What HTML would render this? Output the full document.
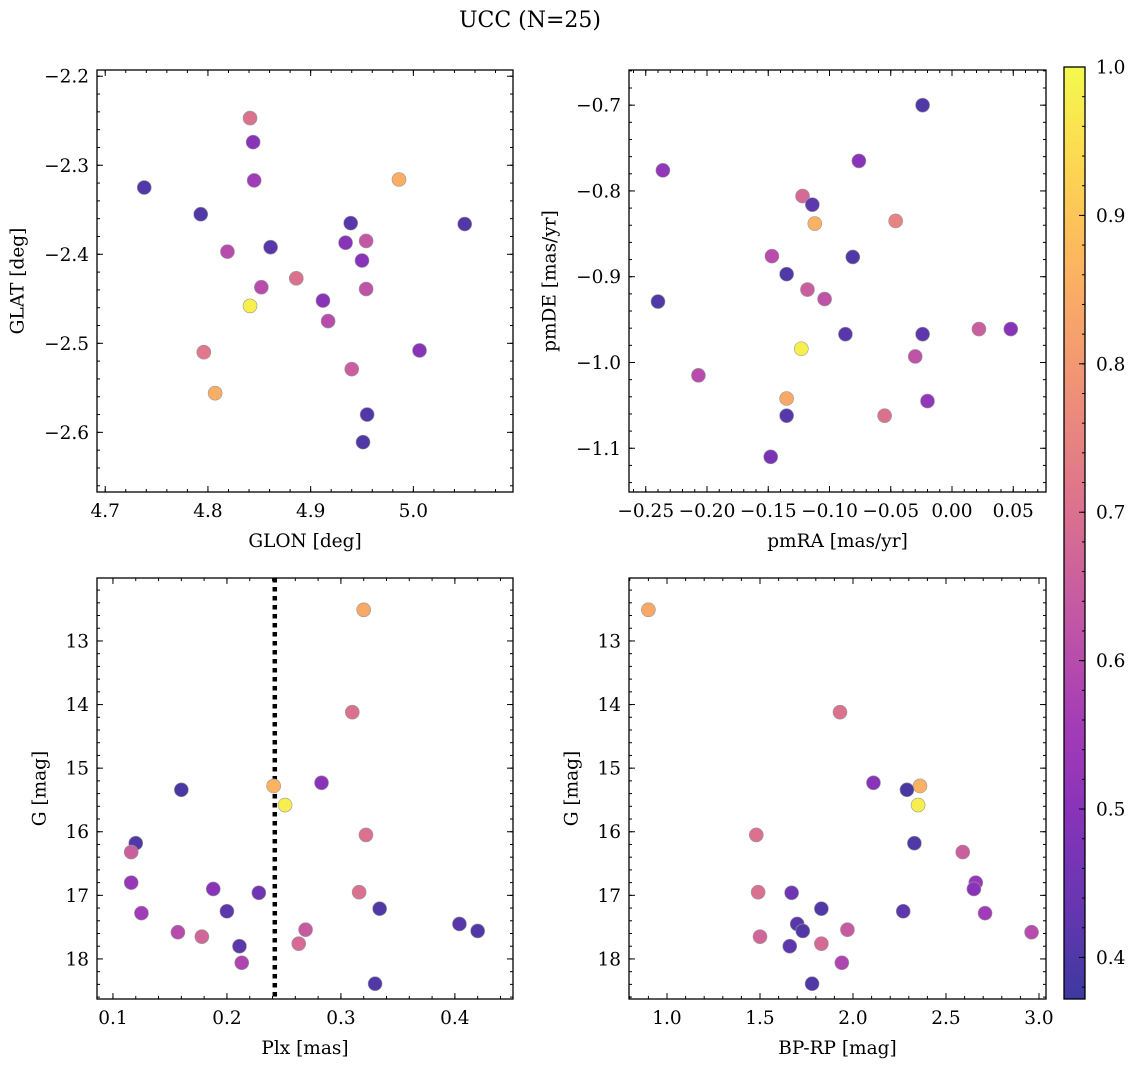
<!DOCTYPE html>
<html><head><meta charset="utf-8"><style>
html,body{margin:0;padding:0;background:#fff;}
svg text{font-family:"DejaVu Serif","Liberation Serif",serif;fill:#000;}
</style></head><body>
<svg id="fig" width="1136" height="1067" viewBox="0 0 1136 1067" xmlns="http://www.w3.org/2000/svg">
<defs>
<linearGradient id="cbgrad" x1="0" y1="1" x2="0" y2="0"></linearGradient>
</defs>
<text x="530" y="27" font-size="22" text-anchor="middle">UCC (N=25)</text>
<g id="layer"></g>
</svg>
<script>
// Panel 1: GLON / GLAT
const glon = [4.841,4.844,4.845,4.986,4.738,4.793,4.939,5.050,4.934,4.954,4.861,4.819,4.950,4.886,4.852,4.954,4.912,4.841,4.917,4.796,5.006,4.940,4.807,4.955,4.951];
const glat = [-2.247,-2.274,-2.317,-2.316,-2.325,-2.355,-2.365,-2.366,-2.387,-2.385,-2.392,-2.397,-2.407,-2.427,-2.437,-2.439,-2.452,-2.458,-2.475,-2.510,-2.508,-2.529,-2.556,-2.580,-2.611];
const prob1 = [0.70,0.50,0.55,0.85,0.40,0.40,0.41,0.40,0.50,0.63,0.41,0.60,0.50,0.70,0.60,0.62,0.50,0.98,0.60,0.72,0.50,0.65,0.85,0.40,0.40];
// Panel 2: pmRA / pmDE
const pmra = [-0.024,-0.236,-0.076,-0.122,-0.114,-0.112,-0.046,-0.240,-0.147,-0.081,-0.135,-0.118,-0.104,0.022,0.048,-0.087,-0.024,-0.123,-0.030,-0.207,-0.135,-0.020,-0.055,-0.135,-0.148];
const pmde = [-0.700,-0.776,-0.765,-0.806,-0.816,-0.838,-0.835,-0.929,-0.876,-0.877,-0.897,-0.915,-0.926,-0.961,-0.961,-0.967,-0.967,-0.984,-0.993,-1.015,-1.042,-1.045,-1.062,-1.062,-1.110];
const prob2 = [0.40,0.52,0.50,0.68,0.42,0.86,0.75,0.40,0.60,0.40,0.40,0.65,0.62,0.65,0.50,0.41,0.42,0.98,0.62,0.60,0.84,0.52,0.70,0.41,0.47];
// Panels 3 & 4: Plx, BP-RP, G
const plx  = [0.320,0.310,0.283,0.241,0.251,0.160,0.322,0.120,0.116,0.116,0.188,0.228,0.316,0.125,0.200,0.334,0.404,0.420,0.157,0.269,0.178,0.263,0.211,0.213,0.330];
const gmag = [12.51,14.12,15.23,15.28,15.58,15.34,16.05,16.18,16.32,16.80,16.90,16.96,16.95,17.28,17.25,17.21,17.45,17.56,17.58,17.54,17.65,17.76,17.80,18.06,18.39];
const bprp = [0.90,1.93,2.11,2.36,2.35,2.29,1.48,2.33,2.59,2.66,2.65,1.67,1.49,2.71,2.27,1.83,1.70,1.73,2.96,1.97,1.50,1.83,1.66,1.94,1.78];
const prob34 = [0.84,0.70,0.50,0.86,0.98,0.39,0.70,0.40,0.65,0.53,0.50,0.45,0.70,0.55,0.42,0.40,0.41,0.40,0.60,0.64,0.67,0.68,0.42,0.58,0.40];
const plxLine = 0.242;
const cbTicks = [0.4,0.5,0.6,0.7,0.8,0.9,1.0];

const NS="http://www.w3.org/2000/svg";
const layer=document.getElementById('layer');
const TF=18.5, LF=18.5;
function mk(tag,attrs,parent){const e=document.createElementNS(NS,tag);for(const k in attrs)e.setAttribute(k,attrs[k]);(parent||layer).appendChild(e);return e;}
const stops=["#0d0887","#41049d","#6a00a8","#8f0da4","#b12a90","#cc4778","#e16462","#f2844b","#fca636","#fcce25","#f0f921"];
function hex(h){return [1,3,5].map(i=>parseInt(h.substr(i,2),16));}
function plasma(t){t=Math.max(0,Math.min(1,t));const f=t*10,i=Math.min(9,Math.floor(f)),r=f-i;const a=hex(stops[i]),b=hex(stops[i+1]);
 const c=a.map((v,k)=>v+(b[k]-v)*r).map(v=>Math.round(0.8*v+0.2*255));return `rgb(${c[0]},${c[1]},${c[2]})`;}
const vmin=0.372,vmax=1.0;
function cmap(v){return plasma((v-vmin)/(vmax-vmin));}
function fmt(v,d){const s=Math.abs(v).toFixed(d);return (v<-1e-9?"\u2212":"")+s;}

function panel(o){
 const g=mk('g',{});
 
 
 const sx=v=>o.x0+(v-o.xd[0])/(o.xd[1]-o.xd[0])*(o.x1-o.x0);
 const sy=o.yinv? v=>o.y0+(v-o.yd[0])/(o.yd[1]-o.yd[0])*(o.y1-o.y0) : v=>o.y1-(v-o.yd[0])/(o.yd[1]-o.yd[0])*(o.y1-o.y0);
 const tg=mk('g',{stroke:'#000','stroke-width':1},g);
 function ticksX(step,len,labels,dec){const s=Math.ceil(o.xd[0]/step-1e-6);for(let k=s;k*step<=o.xd[1]+1e-9;k++){const v=k*step,x=sx(v);
  mk('line',{x1:x,x2:x,y1:o.y1,y2:o.y1-len},tg);mk('line',{x1:x,x2:x,y1:o.y0,y2:o.y0+len},tg);
  if(labels){const t=mk('text',{x:x,y:o.y1+25,'font-size':TF,'text-anchor':'middle'},g);t.textContent=fmt(v,dec);
   
   }}}
 function ticksY(step,len,labels,dec){const lo=Math.min(...o.yd),hi=Math.max(...o.yd);const s=Math.ceil(lo/step-1e-6);for(let k=s;k*step<=hi+1e-9;k++){const v=k*step,y=sy(v);
  mk('line',{x1:o.x0,x2:o.x0+len,y1:y,y2:y},tg);mk('line',{x1:o.x1,x2:o.x1-len,y1:y,y2:y},tg);
  if(labels){const t=mk('text',{x:o.x0-8,y:y+6.5,'font-size':TF,'text-anchor':'end'},g);t.textContent=fmt(v,dec);
   
   }}}
 ticksX(o.xmin,3,false);ticksX(o.xmaj,6,true,o.xdec);
 ticksY(o.ymin,3,false);ticksY(o.ymaj,6,true,o.ydec);
 if(o.vline!==undefined){const l=mk('line',{x1:sx(o.vline),x2:sx(o.vline),y1:o.y0,y2:o.y1,stroke:'#000','stroke-width':4.5,'stroke-dasharray':'4.5,4.5'},g);
  
  }
 for(let i=0;i<o.xs.length;i++){const c=mk('circle',{cx:sx(o.xs[i]),cy:sy(o.ys[i]),r:7,fill:cmap(o.cs[i]),stroke:'#999','stroke-width':0.6},g);
  
  }
 const fr=mk('rect',{x:o.x0,y:o.y0,width:o.x1-o.x0,height:o.y1-o.y0,fill:'none',stroke:'#000','stroke-width':1.3},g);
 
 
 const xl=mk('text',{x:(o.x0+o.x1)/2,y:o.y1+55,'font-size':LF,'text-anchor':'middle'},g);xl.textContent=o.xlab;
 
 
 const yx=o.x0-o.ylabOff,yy=(o.y0+o.y1)/2;
 const yl=mk('text',{x:yx,y:yy,'font-size':LF,'text-anchor':'middle','dominant-baseline':'central',transform:`rotate(-90 ${yx} ${yy})`},g);yl.textContent=o.ylab;
 
 
}
panel({name:'glon-glat-panel',x0:97,x1:513,y0:70,y1:492,xd:[4.692,5.097],yd:[-2.667,-2.193],xs:glon,ys:glat,cs:prob1,xmaj:0.1,xmin:0.02,ymaj:0.1,ymin:0.02,xdec:1,ydec:1,xlab:'GLON [deg]',ylab:'GLAT [deg]',ylabOff:79});
panel({name:'pm-panel',x0:629,x1:1046,y0:70,y1:492,xd:[(629-952)/1225,(1046-952)/1225],yd:[-1.151,-0.659],xs:pmra,ys:pmde,cs:prob2,xmaj:0.05,xmin:0.01,ymaj:0.1,ymin:0.02,xdec:2,ydec:1,xlab:'pmRA [mas/yr]',ylab:'pmDE [mas/yr]',ylabOff:79});
panel({name:'plx-g-panel',x0:97,x1:513,y0:578,y1:999,xd:[0.086,0.451],yd:[12.01,18.63],yinv:true,xs:plx,ys:gmag,cs:prob34,xmaj:0.1,xmin:0.02,ymaj:1,ymin:0.2,xdec:1,ydec:0,xlab:'Plx [mas]',ylab:'G [mag]',ylabOff:57,vline:plxLine});
panel({name:'cmd-panel',x0:629,x1:1046,y0:578,y1:999,xd:[1+(629-667)/186,1+(1046-667)/186],yd:[12.01,18.63],yinv:true,xs:bprp,ys:gmag,cs:prob34,xmaj:0.5,xmin:0.1,ymaj:1,ymin:0.2,xdec:1,ydec:0,xlab:'BP-RP [mag]',ylab:'G [mag]',ylabOff:57});

// colorbar
const grad=document.getElementById('cbgrad');
for(let i=0;i<=20;i++){mk('stop',{offset:i/20,'stop-color':plasma(i/20)},grad);}
const cb=mk('g',{});


const cx0=1064,cx1=1085,cy0=67,cy1=999;
mk('rect',{x:cx0,y:cy0,width:cx1-cx0,height:cy1-cy0,fill:'url(#cbgrad)'},cb);
const cys=v=>cy1-(v-vmin)/(vmax-vmin)*(cy1-cy0);
for(let k=19;k<=50;k++){const v=k*0.02;if(v<vmin||v>vmax+1e-9)continue;const y=cys(v);mk('line',{x1:cx1,x2:cx1-3,y1:y,y2:y,stroke:'#000','stroke-width':1},cb);}
for(const v of cbTicks){const y=cys(v);mk('line',{x1:cx1,x2:cx1-6,y1:y,y2:y,stroke:'#000','stroke-width':1},cb);
 const t=mk('text',{x:cx1+11,y:y+6.5,'font-size':TF},cb);t.textContent=v.toFixed(1);
 
 }
mk('rect',{x:cx0,y:cy0,width:cx1-cx0,height:cy1-cy0,fill:'none',stroke:'#000','stroke-width':1.3},cb);
</script>
</body></html>
